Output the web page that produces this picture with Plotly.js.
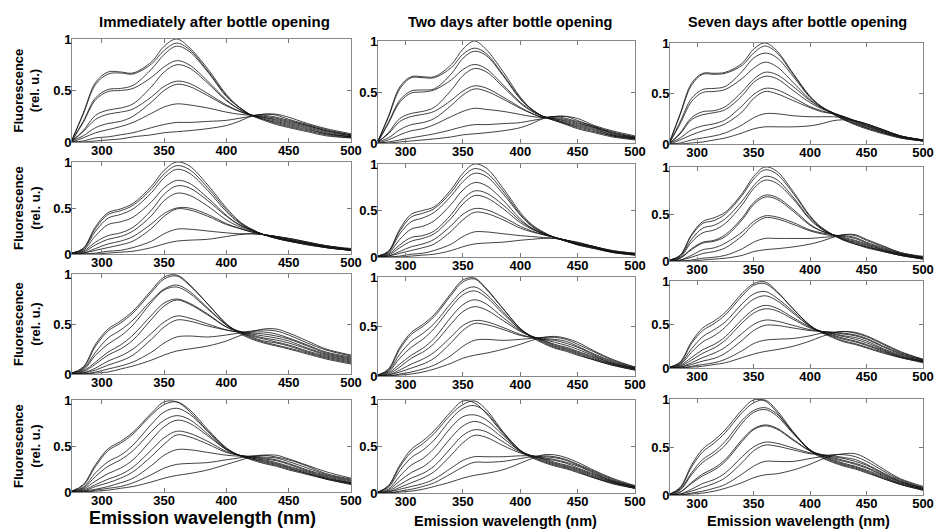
<!DOCTYPE html>
<html>
<head>
<meta charset="utf-8">
<script src="https://cdn.plot.ly/plotly-3.0.1.min.js"></script>
<style>html,body{margin:0;padding:0;background:#fff;}#chart{width:936px;height:529px;}</style>
</head>
<body>
<div id="chart"></div>
<script>
// Emission wavelength sample points (nm)
const wavelength = [276, 285, 295, 305, 315, 325, 340, 350, 360, 370, 385, 400, 410, 420, 430, 440, 450, 465, 480, 500];

const columnTitles = ["Immediately after bottle opening", "Two days after bottle opening", "Seven days after bottle opening"];
const xTickVals = [300, 350, 400, 450, 500];
const yTickVals = [0, 0.5, 1];
const yTickText = ["0", "0.5", "1"];
const yAxisTitle = "Fluorescence<br>(rel. u.)";
const xAxisTitle = "Emission wavelength (nm)";

// Row 1
const r1c1 = [
 [0.02,0.28,0.58,0.68,0.68,0.67,0.78,0.93,1.00,0.92,0.71,0.46,0.34,0.26,0.21,0.17,0.14,0.10,0.06,0.04],
 [0.02,0.27,0.56,0.66,0.67,0.66,0.76,0.89,0.96,0.90,0.69,0.45,0.34,0.26,0.22,0.18,0.15,0.11,0.07,0.04],
 [0.02,0.20,0.43,0.51,0.52,0.55,0.71,0.85,0.93,0.88,0.68,0.44,0.34,0.26,0.22,0.19,0.16,0.12,0.08,0.05],
 [0.01,0.19,0.41,0.49,0.50,0.52,0.63,0.73,0.79,0.75,0.59,0.41,0.32,0.26,0.23,0.20,0.17,0.13,0.08,0.05],
 [0.01,0.11,0.26,0.31,0.33,0.37,0.54,0.68,0.75,0.72,0.57,0.40,0.32,0.26,0.24,0.21,0.18,0.14,0.09,0.05],
 [0.01,0.10,0.22,0.27,0.29,0.32,0.44,0.54,0.59,0.57,0.47,0.36,0.30,0.26,0.24,0.22,0.19,0.15,0.10,0.06],
 [0.01,0.06,0.14,0.18,0.20,0.25,0.39,0.50,0.56,0.54,0.45,0.35,0.30,0.26,0.25,0.23,0.20,0.16,0.11,0.06],
 [0.00,0.04,0.09,0.12,0.15,0.19,0.28,0.34,0.37,0.36,0.33,0.29,0.27,0.26,0.26,0.24,0.21,0.16,0.11,0.07],
 [0.00,0.01,0.04,0.05,0.07,0.09,0.14,0.17,0.19,0.19,0.20,0.21,0.23,0.25,0.27,0.26,0.22,0.17,0.12,0.07],
 [0.00,0.00,0.01,0.02,0.03,0.05,0.07,0.09,0.10,0.11,0.13,0.16,0.20,0.25,0.27,0.27,0.24,0.18,0.13,0.08]
];
const r1c2 = [
 [0.02,0.26,0.55,0.65,0.65,0.65,0.77,0.92,1.00,0.92,0.70,0.45,0.33,0.26,0.22,0.18,0.14,0.10,0.06,0.03],
 [0.02,0.25,0.53,0.64,0.64,0.64,0.74,0.87,0.93,0.88,0.67,0.44,0.33,0.26,0.22,0.19,0.15,0.11,0.07,0.04],
 [0.02,0.20,0.42,0.51,0.52,0.53,0.68,0.83,0.90,0.86,0.66,0.43,0.33,0.26,0.23,0.19,0.16,0.12,0.07,0.04],
 [0.01,0.19,0.40,0.49,0.50,0.52,0.62,0.72,0.77,0.73,0.57,0.40,0.32,0.26,0.23,0.20,0.17,0.13,0.08,0.04],
 [0.01,0.10,0.24,0.29,0.31,0.35,0.52,0.66,0.73,0.70,0.55,0.39,0.31,0.26,0.24,0.21,0.18,0.14,0.08,0.05],
 [0.01,0.09,0.21,0.26,0.28,0.31,0.42,0.51,0.56,0.54,0.45,0.35,0.29,0.25,0.24,0.22,0.19,0.15,0.09,0.05],
 [0.01,0.05,0.13,0.18,0.20,0.24,0.37,0.47,0.53,0.51,0.43,0.34,0.29,0.25,0.25,0.23,0.20,0.15,0.10,0.05],
 [0.00,0.03,0.08,0.12,0.14,0.18,0.26,0.31,0.34,0.33,0.31,0.28,0.26,0.25,0.26,0.24,0.21,0.16,0.10,0.06],
 [0.00,0.01,0.03,0.05,0.07,0.09,0.13,0.16,0.18,0.18,0.19,0.20,0.22,0.24,0.26,0.26,0.22,0.16,0.11,0.06],
 [0.00,0.00,0.01,0.02,0.03,0.04,0.06,0.08,0.09,0.10,0.12,0.15,0.19,0.24,0.26,0.26,0.24,0.17,0.12,0.07]
];
const r1c3 = [
 [0.03,0.30,0.60,0.70,0.70,0.71,0.80,0.94,1.00,0.93,0.70,0.47,0.37,0.30,0.24,0.19,0.15,0.10,0.06,0.03],
 [0.03,0.29,0.58,0.69,0.69,0.70,0.78,0.90,0.97,0.91,0.69,0.47,0.37,0.30,0.24,0.20,0.16,0.11,0.06,0.03],
 [0.02,0.22,0.45,0.54,0.55,0.57,0.72,0.85,0.90,0.86,0.67,0.46,0.37,0.31,0.25,0.20,0.16,0.11,0.07,0.03],
 [0.02,0.20,0.42,0.51,0.52,0.54,0.65,0.75,0.81,0.77,0.61,0.44,0.36,0.31,0.26,0.21,0.17,0.12,0.07,0.03],
 [0.01,0.11,0.26,0.32,0.33,0.37,0.52,0.64,0.71,0.69,0.57,0.43,0.36,0.31,0.26,0.22,0.18,0.12,0.07,0.03],
 [0.01,0.10,0.24,0.29,0.31,0.34,0.48,0.61,0.67,0.65,0.53,0.41,0.35,0.31,0.27,0.22,0.18,0.13,0.07,0.04],
 [0.01,0.06,0.14,0.18,0.20,0.24,0.38,0.49,0.55,0.54,0.46,0.37,0.33,0.30,0.27,0.23,0.19,0.13,0.08,0.04],
 [0.00,0.04,0.09,0.13,0.16,0.20,0.32,0.45,0.52,0.50,0.43,0.36,0.32,0.30,0.27,0.23,0.19,0.14,0.08,0.04],
 [0.00,0.01,0.04,0.06,0.08,0.11,0.19,0.26,0.30,0.30,0.28,0.27,0.27,0.27,0.26,0.23,0.20,0.14,0.08,0.04],
 [0.00,0.00,0.01,0.02,0.04,0.06,0.11,0.15,0.17,0.17,0.17,0.18,0.20,0.23,0.24,0.23,0.20,0.14,0.08,0.04]
];
// Row 2
const r2c1 = [
 [0.01,0.06,0.30,0.45,0.49,0.55,0.74,0.91,1.00,0.96,0.75,0.50,0.36,0.27,0.21,0.17,0.14,0.10,0.07,0.04],
 [0.01,0.06,0.28,0.43,0.47,0.53,0.71,0.87,0.96,0.92,0.72,0.48,0.35,0.27,0.21,0.17,0.14,0.10,0.07,0.04],
 [0.01,0.05,0.25,0.39,0.43,0.49,0.67,0.83,0.92,0.88,0.69,0.46,0.34,0.26,0.21,0.17,0.14,0.11,0.07,0.04],
 [0.01,0.04,0.20,0.32,0.35,0.40,0.57,0.72,0.80,0.77,0.61,0.42,0.32,0.26,0.21,0.18,0.15,0.11,0.07,0.04],
 [0.00,0.03,0.13,0.20,0.23,0.29,0.48,0.65,0.74,0.72,0.58,0.41,0.32,0.26,0.21,0.18,0.15,0.11,0.08,0.04],
 [0.00,0.02,0.10,0.16,0.19,0.25,0.42,0.58,0.66,0.64,0.52,0.37,0.30,0.25,0.21,0.18,0.15,0.12,0.08,0.05],
 [0.00,0.01,0.06,0.11,0.14,0.19,0.33,0.44,0.50,0.50,0.43,0.33,0.28,0.24,0.21,0.19,0.16,0.12,0.08,0.05],
 [0.00,0.01,0.04,0.07,0.10,0.14,0.28,0.41,0.49,0.48,0.41,0.32,0.28,0.24,0.21,0.19,0.16,0.12,0.09,0.05],
 [0.00,0.00,0.01,0.03,0.04,0.07,0.14,0.22,0.27,0.27,0.25,0.23,0.22,0.22,0.21,0.19,0.17,0.13,0.09,0.05],
 [0.00,0.00,0.00,0.01,0.02,0.03,0.07,0.11,0.14,0.15,0.16,0.19,0.21,0.22,0.21,0.19,0.17,0.13,0.09,0.06]
];
const r2c2 = [
 [0.01,0.06,0.30,0.46,0.50,0.54,0.73,0.90,1.00,0.96,0.74,0.48,0.35,0.27,0.21,0.17,0.13,0.09,0.05,0.02],
 [0.01,0.06,0.28,0.43,0.47,0.52,0.70,0.86,0.95,0.91,0.71,0.46,0.34,0.26,0.21,0.17,0.13,0.09,0.05,0.02],
 [0.01,0.05,0.25,0.38,0.42,0.48,0.66,0.81,0.90,0.87,0.68,0.45,0.33,0.26,0.21,0.17,0.14,0.10,0.05,0.03],
 [0.01,0.04,0.19,0.30,0.33,0.39,0.57,0.72,0.80,0.77,0.61,0.41,0.31,0.25,0.21,0.17,0.14,0.10,0.06,0.03],
 [0.00,0.03,0.13,0.21,0.23,0.28,0.46,0.62,0.71,0.69,0.56,0.39,0.31,0.25,0.21,0.18,0.14,0.10,0.06,0.03],
 [0.00,0.02,0.10,0.17,0.20,0.25,0.42,0.57,0.66,0.64,0.52,0.37,0.30,0.25,0.21,0.18,0.15,0.10,0.06,0.03],
 [0.00,0.01,0.06,0.11,0.14,0.19,0.34,0.46,0.52,0.51,0.43,0.33,0.28,0.24,0.21,0.18,0.15,0.11,0.06,0.03],
 [0.00,0.01,0.04,0.07,0.10,0.14,0.28,0.40,0.48,0.47,0.40,0.31,0.27,0.24,0.21,0.18,0.15,0.11,0.06,0.03],
 [0.00,0.00,0.01,0.03,0.04,0.07,0.14,0.22,0.27,0.27,0.25,0.23,0.22,0.21,0.20,0.18,0.15,0.11,0.07,0.04],
 [0.00,0.00,0.00,0.01,0.02,0.03,0.07,0.11,0.14,0.15,0.16,0.18,0.19,0.20,0.20,0.18,0.16,0.11,0.07,0.04]
];
const r2c3 = [
 [0.01,0.06,0.28,0.42,0.46,0.52,0.72,0.90,1.00,0.96,0.74,0.48,0.36,0.28,0.22,0.18,0.14,0.10,0.06,0.02],
 [0.01,0.06,0.27,0.40,0.43,0.50,0.70,0.87,0.97,0.93,0.72,0.47,0.35,0.28,0.22,0.18,0.15,0.10,0.06,0.02],
 [0.01,0.05,0.23,0.35,0.38,0.45,0.64,0.80,0.90,0.87,0.68,0.45,0.35,0.28,0.23,0.19,0.15,0.11,0.06,0.03],
 [0.01,0.04,0.20,0.30,0.33,0.40,0.60,0.77,0.86,0.83,0.66,0.44,0.34,0.28,0.23,0.20,0.16,0.11,0.07,0.03],
 [0.00,0.03,0.13,0.20,0.22,0.28,0.46,0.62,0.70,0.68,0.55,0.39,0.32,0.28,0.24,0.21,0.17,0.12,0.07,0.03],
 [0.00,0.03,0.12,0.19,0.21,0.26,0.44,0.60,0.68,0.66,0.53,0.38,0.32,0.28,0.25,0.22,0.18,0.12,0.07,0.03],
 [0.00,0.01,0.06,0.12,0.14,0.19,0.31,0.42,0.48,0.47,0.41,0.33,0.30,0.28,0.26,0.24,0.19,0.13,0.08,0.04],
 [0.00,0.01,0.04,0.08,0.10,0.14,0.27,0.39,0.46,0.45,0.39,0.32,0.29,0.27,0.27,0.25,0.20,0.14,0.08,0.04],
 [0.00,0.00,0.01,0.03,0.04,0.06,0.13,0.20,0.24,0.24,0.24,0.24,0.25,0.26,0.28,0.27,0.22,0.15,0.09,0.04],
 [0.00,0.00,0.00,0.01,0.02,0.03,0.06,0.10,0.12,0.13,0.15,0.18,0.21,0.25,0.28,0.28,0.23,0.16,0.09,0.05]
];
// Row 3
const r3c1 = [
 [0.01,0.07,0.30,0.45,0.53,0.63,0.84,0.97,0.99,0.90,0.70,0.50,0.41,0.35,0.31,0.28,0.25,0.20,0.15,0.10],
 [0.01,0.06,0.28,0.43,0.51,0.61,0.82,0.95,0.98,0.89,0.70,0.50,0.42,0.36,0.32,0.29,0.26,0.21,0.16,0.11],
 [0.01,0.05,0.22,0.36,0.44,0.54,0.74,0.85,0.89,0.83,0.66,0.49,0.42,0.37,0.33,0.31,0.28,0.22,0.17,0.12],
 [0.01,0.04,0.19,0.30,0.38,0.49,0.72,0.84,0.87,0.81,0.65,0.49,0.42,0.38,0.35,0.32,0.29,0.23,0.18,0.13],
 [0.00,0.03,0.12,0.22,0.29,0.39,0.59,0.71,0.75,0.71,0.60,0.47,0.42,0.39,0.36,0.34,0.31,0.25,0.19,0.14],
 [0.00,0.02,0.10,0.19,0.25,0.34,0.55,0.68,0.74,0.70,0.59,0.47,0.43,0.40,0.38,0.36,0.33,0.26,0.20,0.15],
 [0.00,0.01,0.06,0.13,0.18,0.25,0.41,0.52,0.58,0.56,0.50,0.44,0.42,0.41,0.40,0.38,0.35,0.28,0.21,0.16],
 [0.00,0.01,0.04,0.09,0.13,0.19,0.35,0.47,0.54,0.53,0.48,0.44,0.42,0.42,0.42,0.40,0.36,0.29,0.22,0.17],
 [0.00,0.00,0.02,0.05,0.08,0.12,0.22,0.31,0.37,0.38,0.37,0.39,0.41,0.43,0.44,0.43,0.39,0.31,0.24,0.18],
 [0.00,0.00,0.01,0.02,0.05,0.08,0.14,0.19,0.23,0.25,0.28,0.33,0.38,0.42,0.45,0.45,0.41,0.33,0.25,0.19]
];
const r3c2 = [
 [0.01,0.07,0.29,0.44,0.52,0.62,0.84,0.97,0.99,0.89,0.68,0.48,0.39,0.33,0.28,0.25,0.21,0.16,0.11,0.06],
 [0.01,0.06,0.27,0.42,0.50,0.60,0.82,0.95,0.98,0.88,0.68,0.48,0.40,0.34,0.29,0.26,0.22,0.16,0.11,0.06],
 [0.01,0.05,0.22,0.35,0.43,0.53,0.74,0.86,0.90,0.83,0.65,0.47,0.40,0.35,0.30,0.27,0.23,0.17,0.12,0.07],
 [0.01,0.04,0.18,0.29,0.37,0.48,0.70,0.82,0.86,0.80,0.63,0.47,0.40,0.36,0.31,0.28,0.24,0.18,0.12,0.07],
 [0.00,0.03,0.12,0.21,0.28,0.38,0.60,0.72,0.77,0.73,0.59,0.46,0.40,0.36,0.32,0.29,0.25,0.19,0.13,0.07],
 [0.00,0.02,0.09,0.18,0.24,0.33,0.53,0.65,0.70,0.67,0.56,0.45,0.40,0.37,0.34,0.31,0.27,0.20,0.13,0.08],
 [0.00,0.01,0.06,0.12,0.17,0.24,0.40,0.51,0.56,0.55,0.49,0.42,0.39,0.37,0.36,0.33,0.29,0.21,0.14,0.08],
 [0.00,0.01,0.04,0.08,0.12,0.18,0.34,0.46,0.53,0.52,0.47,0.41,0.39,0.38,0.37,0.35,0.30,0.22,0.15,0.08],
 [0.00,0.00,0.02,0.04,0.07,0.11,0.21,0.30,0.36,0.37,0.36,0.37,0.38,0.39,0.39,0.37,0.32,0.24,0.16,0.09],
 [0.00,0.00,0.01,0.02,0.04,0.07,0.13,0.18,0.21,0.23,0.27,0.32,0.36,0.39,0.40,0.38,0.34,0.25,0.17,0.09]
];
const r3c3 = [
 [0.01,0.07,0.30,0.46,0.54,0.64,0.86,0.97,0.99,0.89,0.68,0.49,0.41,0.35,0.30,0.27,0.23,0.17,0.12,0.06],
 [0.01,0.06,0.28,0.43,0.51,0.61,0.83,0.95,0.97,0.88,0.68,0.49,0.41,0.36,0.31,0.28,0.24,0.18,0.12,0.07],
 [0.01,0.05,0.22,0.36,0.44,0.53,0.74,0.85,0.88,0.81,0.65,0.48,0.41,0.37,0.33,0.30,0.26,0.19,0.13,0.07],
 [0.01,0.04,0.18,0.30,0.37,0.47,0.68,0.79,0.83,0.78,0.63,0.48,0.42,0.38,0.34,0.31,0.27,0.20,0.13,0.08],
 [0.00,0.03,0.12,0.21,0.27,0.36,0.56,0.67,0.72,0.69,0.58,0.47,0.42,0.39,0.36,0.33,0.29,0.21,0.14,0.08],
 [0.00,0.02,0.09,0.17,0.23,0.32,0.52,0.63,0.68,0.66,0.56,0.46,0.42,0.40,0.37,0.35,0.31,0.22,0.15,0.08],
 [0.00,0.01,0.06,0.12,0.17,0.24,0.40,0.50,0.55,0.54,0.49,0.44,0.42,0.41,0.39,0.37,0.33,0.24,0.16,0.09],
 [0.00,0.01,0.04,0.08,0.11,0.17,0.32,0.43,0.49,0.49,0.46,0.43,0.42,0.41,0.40,0.38,0.34,0.25,0.17,0.09],
 [0.00,0.00,0.02,0.04,0.06,0.10,0.20,0.28,0.32,0.33,0.34,0.37,0.40,0.41,0.42,0.40,0.36,0.27,0.18,0.10],
 [0.00,0.00,0.01,0.02,0.04,0.06,0.12,0.16,0.19,0.21,0.25,0.31,0.36,0.40,0.42,0.41,0.37,0.28,0.19,0.10]
];
// Row 4
const r4c1 = [
 [0.01,0.08,0.30,0.47,0.55,0.65,0.86,0.98,0.98,0.88,0.66,0.47,0.40,0.35,0.31,0.28,0.24,0.19,0.14,0.08],
 [0.01,0.07,0.28,0.45,0.53,0.63,0.84,0.95,0.98,0.90,0.68,0.48,0.40,0.36,0.32,0.29,0.25,0.20,0.14,0.09],
 [0.01,0.05,0.21,0.33,0.40,0.51,0.74,0.87,0.91,0.85,0.66,0.47,0.40,0.36,0.33,0.30,0.26,0.20,0.15,0.09],
 [0.01,0.04,0.17,0.28,0.35,0.45,0.66,0.78,0.83,0.79,0.63,0.46,0.40,0.37,0.34,0.31,0.27,0.21,0.15,0.10],
 [0.00,0.03,0.12,0.20,0.26,0.35,0.57,0.71,0.78,0.75,0.61,0.46,0.40,0.37,0.35,0.32,0.28,0.22,0.16,0.10],
 [0.00,0.02,0.08,0.14,0.19,0.27,0.46,0.59,0.66,0.64,0.55,0.44,0.40,0.38,0.36,0.34,0.30,0.23,0.17,0.11],
 [0.00,0.01,0.06,0.10,0.15,0.22,0.39,0.52,0.62,0.60,0.52,0.43,0.40,0.38,0.37,0.35,0.31,0.24,0.18,0.12],
 [0.00,0.01,0.03,0.06,0.10,0.15,0.29,0.40,0.46,0.46,0.43,0.40,0.39,0.39,0.38,0.37,0.33,0.26,0.19,0.13],
 [0.00,0.00,0.02,0.04,0.06,0.10,0.19,0.26,0.30,0.31,0.32,0.35,0.37,0.39,0.40,0.38,0.35,0.28,0.20,0.14],
 [0.00,0.00,0.01,0.02,0.04,0.06,0.11,0.15,0.18,0.20,0.24,0.30,0.34,0.38,0.40,0.40,0.36,0.29,0.22,0.15]
];
const r4c2 = [
 [0.01,0.08,0.30,0.47,0.56,0.67,0.88,0.99,0.97,0.86,0.64,0.45,0.38,0.33,0.29,0.26,0.22,0.16,0.10,0.05],
 [0.01,0.07,0.28,0.44,0.53,0.64,0.85,0.95,0.99,0.90,0.66,0.46,0.39,0.34,0.30,0.27,0.23,0.16,0.11,0.05],
 [0.01,0.06,0.24,0.38,0.46,0.57,0.80,0.91,0.94,0.87,0.65,0.46,0.39,0.35,0.31,0.28,0.24,0.17,0.11,0.05],
 [0.01,0.04,0.18,0.30,0.37,0.48,0.71,0.82,0.84,0.79,0.62,0.45,0.40,0.36,0.32,0.29,0.25,0.18,0.12,0.06],
 [0.00,0.03,0.13,0.22,0.28,0.38,0.60,0.72,0.77,0.73,0.59,0.45,0.40,0.37,0.33,0.30,0.26,0.19,0.12,0.06],
 [0.00,0.02,0.09,0.16,0.21,0.29,0.49,0.62,0.68,0.66,0.55,0.44,0.40,0.37,0.35,0.32,0.27,0.20,0.13,0.06],
 [0.00,0.01,0.06,0.11,0.16,0.23,0.41,0.54,0.62,0.60,0.51,0.43,0.40,0.38,0.36,0.33,0.29,0.21,0.13,0.07],
 [0.00,0.01,0.04,0.07,0.10,0.15,0.27,0.35,0.39,0.39,0.39,0.40,0.40,0.39,0.38,0.35,0.30,0.22,0.14,0.07],
 [0.00,0.00,0.02,0.04,0.07,0.11,0.21,0.28,0.33,0.33,0.34,0.37,0.39,0.40,0.39,0.36,0.31,0.23,0.15,0.07],
 [0.00,0.00,0.01,0.02,0.04,0.07,0.12,0.16,0.19,0.21,0.25,0.32,0.37,0.41,0.41,0.38,0.33,0.24,0.16,0.08]
];
const r4c3 = [
 [0.01,0.08,0.31,0.48,0.57,0.68,0.89,0.99,0.98,0.87,0.65,0.46,0.39,0.34,0.30,0.27,0.23,0.17,0.11,0.05],
 [0.01,0.07,0.29,0.45,0.54,0.65,0.86,0.96,0.99,0.89,0.66,0.47,0.40,0.35,0.31,0.28,0.24,0.17,0.11,0.05],
 [0.01,0.06,0.23,0.37,0.45,0.56,0.78,0.88,0.91,0.85,0.65,0.47,0.41,0.36,0.32,0.29,0.25,0.18,0.12,0.06],
 [0.01,0.05,0.21,0.34,0.42,0.52,0.75,0.86,0.89,0.83,0.64,0.47,0.41,0.37,0.33,0.30,0.26,0.19,0.12,0.06],
 [0.00,0.03,0.13,0.22,0.28,0.37,0.58,0.69,0.73,0.70,0.58,0.46,0.42,0.38,0.35,0.32,0.28,0.20,0.13,0.06],
 [0.00,0.03,0.12,0.20,0.26,0.35,0.56,0.68,0.72,0.69,0.57,0.46,0.42,0.39,0.36,0.33,0.29,0.21,0.14,0.07],
 [0.00,0.01,0.06,0.12,0.16,0.23,0.40,0.50,0.55,0.54,0.49,0.44,0.42,0.40,0.38,0.35,0.31,0.22,0.14,0.07],
 [0.00,0.01,0.04,0.08,0.12,0.18,0.34,0.46,0.52,0.51,0.47,0.43,0.42,0.41,0.39,0.37,0.32,0.23,0.15,0.07],
 [0.00,0.00,0.02,0.04,0.07,0.11,0.22,0.30,0.35,0.35,0.35,0.38,0.40,0.42,0.42,0.40,0.35,0.25,0.16,0.08],
 [0.00,0.00,0.01,0.02,0.04,0.07,0.13,0.18,0.21,0.22,0.26,0.32,0.37,0.41,0.43,0.43,0.38,0.27,0.17,0.09]
];

const panels = [[r1c1, r1c2, r1c3], [r2c1, r2c2, r2c3], [r3c1, r3c2, r3c3], [r4c1, r4c2, r4c3]];

// layout geometry (pixels)
const W = 936, H = 529;
const colPx = [[72, 351], [378, 635], [670, 923]];
const rowPx = [
  [[39, 142], [162, 254], [274, 374], [400, 492]],
  [[41, 143], [164, 257], [277, 376], [400, 493]],
  [[43, 144], [167, 261], [281, 368], [399, 495]]
];

const FONT = "Arial, 'Liberation Sans', sans-serif";
const tickFont = {family: FONT, size: 13, color: "#000", weight: "bold"};
const traces = [];
const layout = {
  width: W, height: H,
  margin: {l: 0, r: 0, t: 0, b: 0},
  paper_bgcolor: "#fff", plot_bgcolor: "#fff",
  showlegend: false,
  annotations: []
};

for (let r = 0; r < 4; r++) {
  for (let c = 0; c < 3; c++) {
    const k = r * 3 + c + 1;
    const xs = k === 1 ? "" : String(k);
    const xa = "x" + xs, ya = "y" + xs;
    const [x0, x1] = colPx[c];
    const [yt, yb] = rowPx[c][r];
    layout["xaxis" + xs] = {
      domain: [x0 / W, x1 / W], range: [276, 500], anchor: ya,
      tickvals: xTickVals, ticks: "inside", ticklen: 4, tickcolor: "#777", tickwidth: 1,
      showline: true, mirror: "allticks", linecolor: "#888", linewidth: 1,
      showgrid: false, zeroline: false, tickfont: tickFont, ticklabelstandoff: -4
    };
    layout["yaxis" + xs] = {
      domain: [1 - yb / H, 1 - yt / H], range: [0, 1], anchor: xa,
      tickvals: yTickVals, ticktext: yTickText, ticks: "inside", ticklen: 4, tickcolor: "#777", tickwidth: 1,
      showline: true, mirror: "allticks", linecolor: "#888", linewidth: 1,
      showgrid: false, zeroline: false, tickfont: tickFont, ticklabelstandoff: -3
    };
    panels[r][c].forEach(curve => {
      traces.push({
        x: wavelength, y: curve, xaxis: xa, yaxis: ya,
        type: "scatter", mode: "lines",
        line: {color: "rgba(20,20,20,0.9)", width: 0.9, shape: "spline", smoothing: 1},
        hoverinfo: "skip"
      });
    });
    if (c === 0) {
      layout.annotations.push({
        text: yAxisTitle, xref: "paper", yref: "paper",
        x: 27 / W, y: 1 - ((yt + yb) / 2) / H, xanchor: "center", yanchor: "middle",
        textangle: -90, showarrow: false,
        font: {family: FONT, size: 13, color: "#000", weight: "bold"}
      });
    }
  }
}

const titlePos = [[214, 22, 15], [510, 22, 14.5], [797, 22, 14.5]];
columnTitles.forEach((t, i) => {
  layout.annotations.push({
    text: t, xref: "paper", yref: "paper",
    x: titlePos[i][0] / W, y: 1 - titlePos[i][1] / H, xanchor: "center", yanchor: "middle",
    showarrow: false, font: {family: FONT, size: titlePos[i][2], color: "#000", weight: "bold"}
  });
});

const xTitlePos = [[202, 518, 18], [505, 521, 14.5], [798, 521, 14.5]];
xTitlePos.forEach(p => {
  layout.annotations.push({
    text: xAxisTitle, xref: "paper", yref: "paper",
    x: p[0] / W, y: 1 - p[1] / H, xanchor: "center", yanchor: "middle",
    showarrow: false, font: {family: FONT, size: p[2], color: "#000", weight: "bold"}
  });
});

Plotly.newPlot("chart", traces, layout, {displayModeBar: false, staticPlot: true});
</script>
</body>
</html>
